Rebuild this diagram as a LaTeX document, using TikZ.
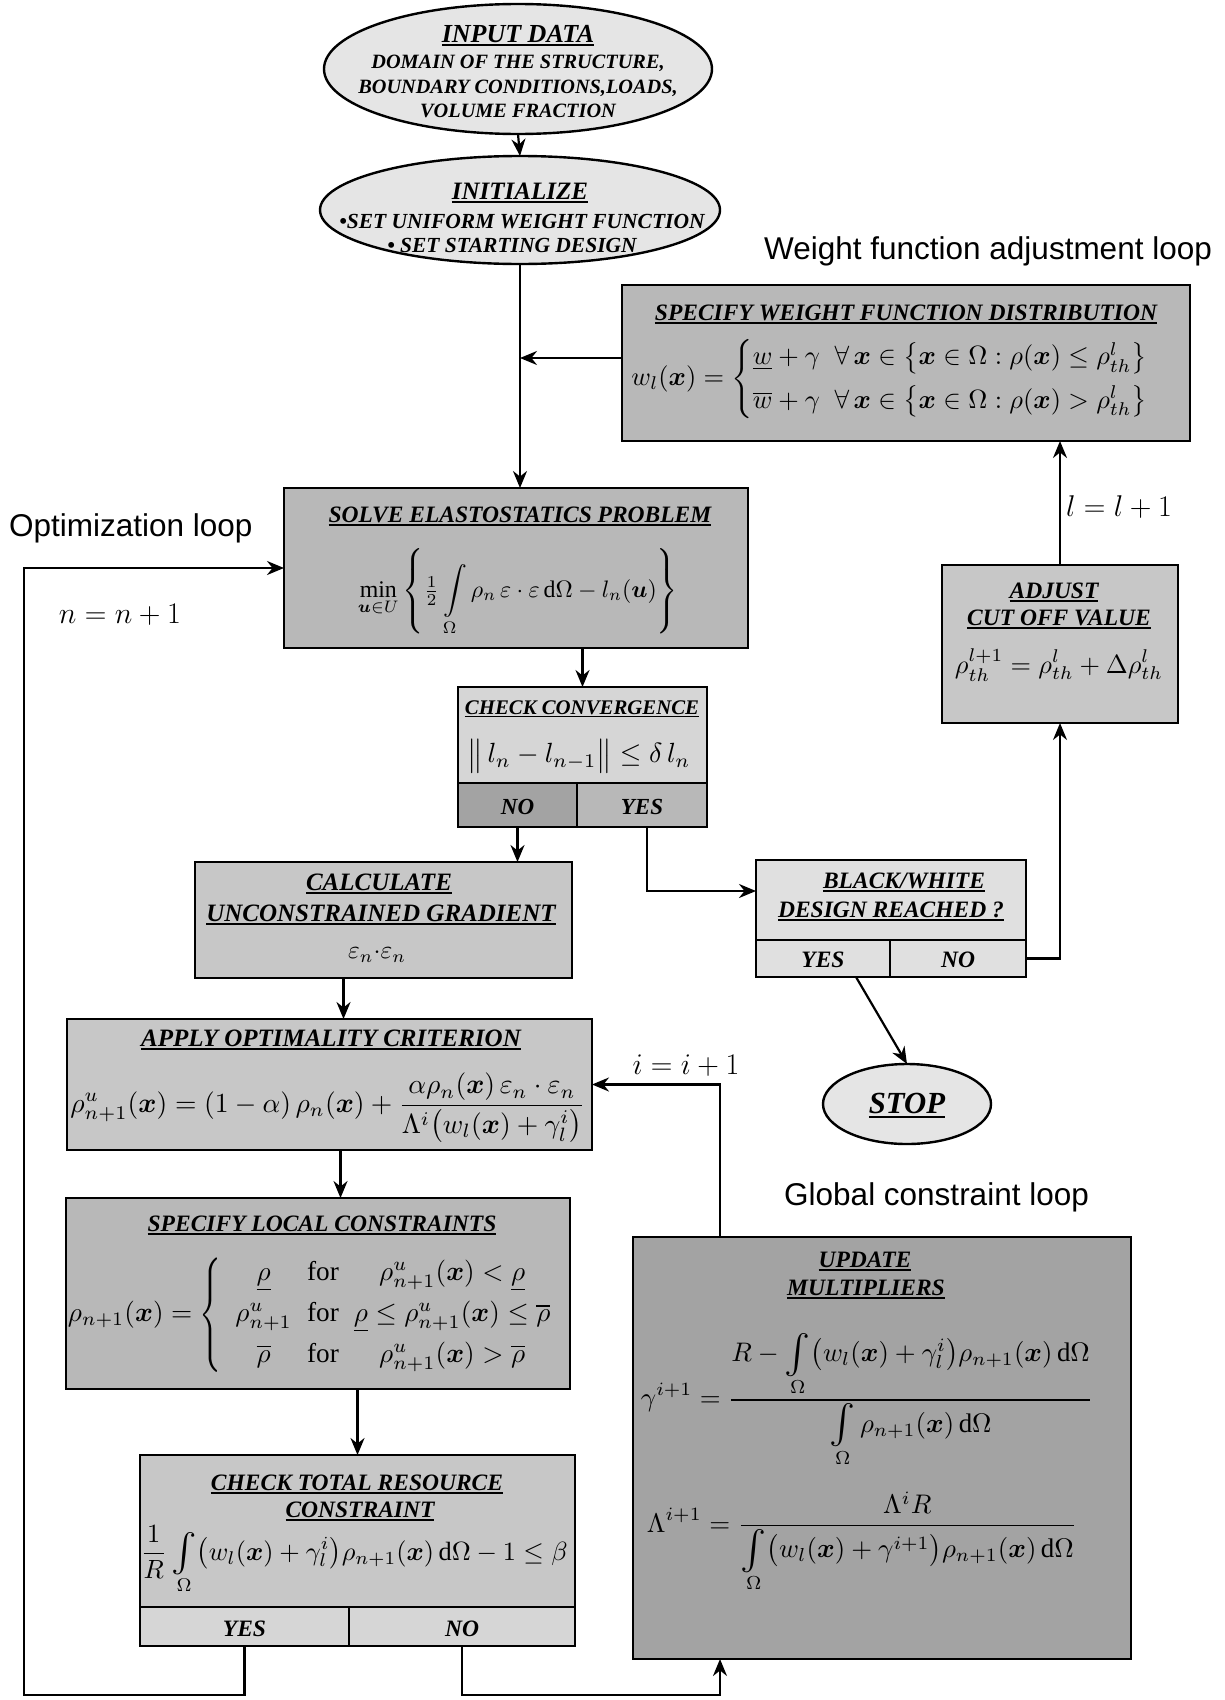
\RequirePackage{fix-cm}
\documentclass[tikz,border=0pt]{standalone}
\usepackage{amsmath}
\usepackage{graphicx}
\usepackage{fontspec}
\setmainfont{Liberation Serif}
\newfontfamily\sansfnt{Liberation Sans}
\usetikzlibrary{shapes.geometric,arrows.meta,calc}
\newcommand{\myul}[1]{\setbox0=\hbox{#1}\rlap{\rule[-0.16em]{\wd0}{0.075em}}\box0}
\newcommand{\tsz}[1]{\fontsize{#1}{#1}\selectfont\bfseries\itshape}
\newcommand{\bx}{\boldsymbol{x}}
\newcommand{\mint}{\mathop{\vcenter{\hbox{\scalebox{1.45}{$\textstyle\int$}}}}\limits}
\newcommand{\tallbrace}{\vcenter{\hbox{\scalebox{1}[1.4]{$\Biggl\{$}}}}
\definecolor{gOval}{gray}{0.90}
\definecolor{gA}{gray}{0.72}
\definecolor{gB}{gray}{0.78}
\definecolor{gC}{gray}{0.84}
\definecolor{gD}{gray}{0.64}
\definecolor{gE}{gray}{0.88}
\tikzset{
  frame/.style={draw, line width=2.4pt, inner sep=0pt, outer sep=0pt},
  oval/.style={ellipse, frame, fill=gOval},
  ttl/.style={inner sep=0pt, anchor=base, font={\tsz{#1}}},
  ttl/.default=23.5,
  fml/.style={inner sep=0pt},
  conn/.style={line width=2.2pt},
  arr/.style={conn, -{Stealth[length=17pt,width=14pt]}},
  lbl/.style={inner sep=0pt, anchor=base west, font={\sansfnt\fontsize{31.5}{31.5}\selectfont}},
  mlbl/.style={inner sep=0pt, font={\fontsize{30}{30}\selectfont}},
}
\begin{document}
\begin{tikzpicture}[x=1pt,y=-1pt]
\useasboundingbox (0,0) rectangle (1225,1700);
\fill[white] (0,0) rectangle (1225,1700);

% ---------- ellipses ----------
\node[oval, minimum width=388pt, minimum height=130pt] (e1) at (518,69) {};
\node[ttl=26] (e1a) at (518,42) {\myul{INPUT DATA}};
\node[ttl=20.3] (e1b) at (518,68) {DOMAIN OF THE STRUCTURE,};
\node[ttl=20.3] (e1c) at (518,93) {BOUNDARY CONDITIONS,LOADS,};
\node[ttl=20.3] (e1d) at (518,117) {VOLUME FRACTION};

\node[oval, minimum width=400pt, minimum height=108pt] (e2) at (520,210) {};
\node[ttl=25] (e2a) at (520,199) {\myul{INITIALIZE}};
\node[ttl=21.5] (e2b) at (522,228) {•SET UNIFORM WEIGHT FUNCTION};
\node[ttl=21.5] (e2c) at (512,252) {• SET STARTING DESIGN};

% ---------- weight function box ----------
\node[frame, fill=gA, minimum width=568pt, minimum height=156pt] (wbox) at (906,363) {};
\node[ttl] (wboxt) at (906,320) {\myul{SPECIFY WEIGHT FUNCTION DISTRIBUTION}};
\node[fml] (wboxf) at (904,379) {\resizebox{545pt}{!}{$\displaystyle w_l(\bx)=\begin{cases}\underline{w}+\gamma\;\;\forall\,\bx\in\bigl\{\bx\in\Omega:\rho(\bx)\le\rho^{l}_{th}\bigr\}\\[2pt] \overline{w}+\gamma\;\;\forall\,\bx\in\bigl\{\bx\in\Omega:\rho(\bx)>\rho^{l}_{th}\bigr\}\end{cases}$}};

% ---------- solve ----------
\node[frame, fill=gA, minimum width=464pt, minimum height=160pt] (solve) at (516,568) {};
\node[ttl] (solvet) at (520,522) {\myul{SOLVE ELASTOSTATICS PROBLEM}};
\node[fml] (solvef) at (518,592) {\resizebox{320pt}{!}{$\displaystyle \min_{\boldsymbol{u}\in U}\left\{\tfrac{1}{2}\int\limits_{\Omega}\rho_n\,\varepsilon\cdot\varepsilon\,\mathrm{d}\Omega-l_n(\boldsymbol{u})\right\}$}};

% ---------- check convergence ----------
\node[frame, fill=gC, minimum width=249pt, minimum height=96pt] (cc) at (582.5,735) {};
\node[ttl=20.8] (cct) at (582,714) {\myul{CHECK CONVERGENCE}};
\node[fml] (ccf) at (579,756) {\resizebox{223pt}{!}{$\displaystyle \bigl\|\,l_n-l_{n-1}\bigr\|\le\delta\,l_n$}};
\node[frame, fill=gD, minimum width=119pt, minimum height=44pt] (ccno) at (517.5,805) {};
\node[ttl=23] (ccnot) at (517.5,814) {NO};
\node[frame, fill=gA, minimum width=130pt, minimum height=44pt] (ccyes) at (642,805) {};
\node[ttl=23] (ccyest) at (642,814) {YES};

% ---------- calculate ----------
\node[frame, fill=gB, minimum width=377pt, minimum height=116pt] (calc) at (383.5,920) {};
\node[ttl=25] (calct1) at (379,890) {\myul{CALCULATE}};
\node[ttl=25] (calct2) at (381,921) {\myul{UNCONSTRAINED GRADIENT}};
\node[fml] (calcf) at (377,955) {\resizebox{58pt}{!}{$\varepsilon_n{\cdot}\varepsilon_n$}};

% ---------- apply ----------
\node[frame, fill=gB, minimum width=525pt, minimum height=131pt] (apply) at (329.5,1084.5) {};
\node[ttl=25] (applyt) at (331,1046) {\myul{APPLY OPTIMALITY CRITERION}};
\node[fml] (applyf) at (328,1108) {\resizebox{515pt}{!}{$\displaystyle \rho^{u}_{n+1}(\bx)=(1-\alpha)\,\rho_n(\bx)+\frac{\alpha\rho_n(\bx)\,\varepsilon_n\cdot\varepsilon_n}{\Lambda^{i}\bigl(w_l(\bx)+\gamma^{i}_{l}\bigr)}$}};

% ---------- local constraints ----------
\node[frame, fill=gA, minimum width=504pt, minimum height=191pt] (local) at (318,1293.5) {};
\node[ttl] (localt) at (322,1231) {\myul{SPECIFY LOCAL CONSTRAINTS}};
\node[fml] (localf) at (316,1315) {\resizebox{496pt}{!}{$\displaystyle \rho_{n+1}(\bx)=\tallbrace\begin{array}{c@{\;\;}c@{\;\;}c}\underline{\rho} & \mathrm{for} & \rho^{u}_{n+1}(\bx)<\underline{\rho}\\[3pt] \rho^{u}_{n+1} & \mathrm{for} & \underline{\rho}\le\rho^{u}_{n+1}(\bx)\le\overline{\rho}\\[3pt] \overline{\rho} & \mathrm{for} & \rho^{u}_{n+1}(\bx)>\overline{\rho}\end{array}$}};

% ---------- total resource ----------
\node[frame, fill=gB, minimum width=435pt, minimum height=152pt] (total) at (357.5,1531) {};
\node[ttl] (totalt1) at (357,1490) {\myul{CHECK TOTAL RESOURCE}};
\node[ttl] (totalt2) at (360,1517) {\myul{CONSTRAINT}};
\node[fml] (totalf) at (354,1560) {\resizebox{427pt}{!}{$\displaystyle \frac{1}{R}\mint_{\Omega}\bigl(w_l(\bx)+\gamma^{i}_{l}\bigr)\rho_{n+1}(\bx)\,\mathrm{d}\Omega-1\le\beta$}};
\node[frame, fill=gC, minimum width=209pt, minimum height=39pt] (totyes) at (244.5,1626.5) {};
\node[ttl] (totyest) at (244.5,1636) {YES};
\node[frame, fill=gC, minimum width=226pt, minimum height=39pt] (totno) at (462,1626.5) {};
\node[ttl] (totnot) at (462,1636) {NO};

% ---------- update multipliers ----------
\node[frame, fill=gD, minimum width=498pt, minimum height=422pt] (update) at (882,1448) {};
\node[ttl] (updatet1) at (865,1267) {\myul{UPDATE}};
\node[ttl] (updatet2) at (866,1295) {\myul{MULTIPLIERS}};
\node[fml] (updatef1) at (867,1400) {\resizebox{452pt}{!}{$\displaystyle \gamma^{i+1}=\frac{R-\mint_{\Omega}\bigl(w_l(\bx)+\gamma^{i}_{l}\bigr)\rho_{n+1}(\bx)\,\mathrm{d}\Omega}{\mint_{\Omega}\rho_{n+1}(\bx)\,\mathrm{d}\Omega}$}};
\node[fml] (updatef2) at (862,1542) {\resizebox{430pt}{!}{$\displaystyle \Lambda^{i+1}=\frac{\Lambda^{i}R}{\mint_{\Omega}\bigl(w_l(\bx)+\gamma^{i+1}\bigr)\rho_{n+1}(\bx)\,\mathrm{d}\Omega}$}};

% ---------- black/white ----------
\node[frame, fill=gE, minimum width=270pt, minimum height=80pt] (bw) at (891,900) {};
\node[ttl] (bwt1) at (904,888) {\myul{BLACK/WHITE}};
\node[ttl] (bwt2) at (891,917) {\myul{DESIGN REACHED ?}};
\node[frame, fill=gE, minimum width=134pt, minimum height=37pt] (bwyes) at (823,958.5) {};
\node[ttl] (bwyest) at (823,967) {YES};
\node[frame, fill=gE, minimum width=136pt, minimum height=37pt] (bwno) at (958,958.5) {};
\node[ttl] (bwnot) at (958,967) {NO};

% ---------- adjust ----------
\node[frame, fill=gB, minimum width=236pt, minimum height=158pt] (adjust) at (1060,644) {};
\node[ttl] (adjustt1) at (1054,598) {\myul{ADJUST}};
\node[ttl] (adjustt2) at (1059,625) {\myul{CUT OFF VALUE}};
\node[fml] (adjustf) at (1059,665) {\resizebox{208pt}{!}{$\displaystyle \rho^{l+1}_{th}=\rho^{l}_{th}+\Delta\rho^{l}_{th}$}};

% ---------- stop ----------
\node[oval, minimum width=168pt, minimum height=80pt] (stop) at (907,1104) {};
\node[ttl=30.7] (stopt) at (907,1113) {\myul{STOP}};

% ---------- labels ----------
\node[lbl] (wlbl) at (764,259) {Weight function adjustment loop};
\node[lbl] (olbl) at (9,536) {Optimization loop};
\node[lbl] (glbl) at (784,1205) {Global constraint loop};
\node[mlbl] (nlbl) at (120,615) {$n=n+1$};
\node[mlbl] (llbl) at (1119,507) {$l=l+1$};
\node[mlbl] (ilbl) at (686,1066) {$i=i+1$};

% ---------- connectors ----------
\coordinate (bl) at (24,1695);
\coordinate (br) at (720,1695);
\draw[arr] (e1.south) -- (e2.north);
\draw[arr] (e2.south) -- (e2.south |- solve.north);
\draw[arr] ([yshift=5pt]wbox.west) -- ([yshift=5pt]wbox.west -| e2.south);
\draw[arr] (cc.north |- solve.south) -- (cc.north);
\draw[arr] (ccno.south) -- (ccno.south |- calc.north);
\draw[arr] ([xshift=5pt]ccyes.south) |- ([yshift=9pt]bw.west);
\draw[arr] ([xshift=-40pt]calc.south) -- ([xshift=-40pt]calc.south |- apply.north);
\draw[arr] ([xshift=11pt]apply.south) -- ([xshift=11pt]apply.south |- local.north);
\draw[arr] (total.north |- local.south) -- (total.north);
\draw[arr] (totyes.south) |- (bl) |- (solve.west);
\draw[arr] (totno.south) |- (br) -- (br |- update.south);
\draw[arr] (br |- update.north) |- (apply.east);
\draw[arr] (bwno.east) -| (adjust.south);
\draw[arr] (adjust.north) -- (adjust.north |- wbox.south);
\draw[arr] ([xshift=33pt]bwyes.south) -- (stop.north);
\end{tikzpicture}
\end{document}
